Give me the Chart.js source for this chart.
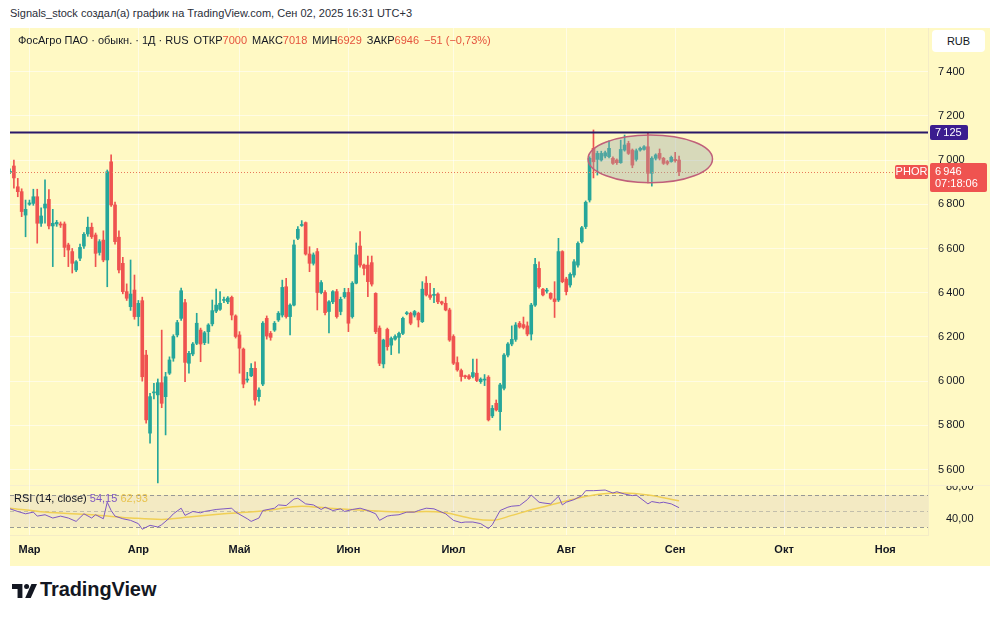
<!DOCTYPE html>
<html lang="ru"><head><meta charset="utf-8">
<script src="https://cdn.jsdelivr.net/npm/chart.js@4.4.1/dist/chart.umd.min.js"></script>
<style>
html,body{margin:0;padding:0;background:#fff;}
body{width:1000px;height:619px;position:relative;overflow:hidden;font-family:"Liberation Sans",Arial,sans-serif;color:#131722;}
#title{position:absolute;left:10px;top:7px;font-size:11px;color:#2a2e39;white-space:nowrap;}
#panel{position:absolute;left:10px;top:28px;width:980px;height:538px;background:#fff9c4;}
canvas{position:absolute;left:10px;}
#cPrice{top:28px;}
#cRsi{top:486px;}
#legend{position:absolute;left:18px;top:34px;font-size:11px;white-space:nowrap;color:#131722;}
#legend .v{color:#e5533d;}
#legend .g{margin-left:5px;}
#rub{position:absolute;left:932px;top:30px;width:53px;height:22px;background:#fff;border-radius:4px;font-size:11px;line-height:22px;text-align:center;color:#131722;}
#rsiLegend{position:absolute;left:14px;top:492px;font-size:11px;white-space:nowrap;color:#131722;}
#sep1{position:absolute;left:10px;top:485px;width:980px;height:1px;background:#f6efcf;}
#logo{position:absolute;left:12px;top:584px;}
#tvtext{position:absolute;left:40px;top:578px;font-size:20px;font-weight:bold;color:#131722;letter-spacing:-0.1px;}
</style></head><body>
<div id="title">Signals_stock создал(а) график на TradingView.com, Сен 02, 2025 16:31 UTC+3</div>
<div id="panel"></div>
<div id="sep1"></div>
<canvas id="cPrice" width="980" height="458"></canvas>
<canvas id="cRsi" width="980" height="80"></canvas>
<div id="legend">ФосАгро ПАО · обыкн. · 1Д · RUS<span class="g">ОТКР</span><span class="v">7000</span><span class="g">МАКС</span><span class="v">7018</span><span class="g">МИН</span><span class="v">6929</span><span class="g">ЗАКР</span><span class="v">6946</span><span class="v g">−51 (−0,73%)</span></div>
<div id="rub">RUB</div>
<div id="rsiLegend">RSI (14, close) <span style="color:#7e57c2">54,15</span> <span style="color:#e8c34e">62,93</span></div>
<svg id="logo" width="25" height="14" viewBox="0 0 36 20">
  <path d="M0 0h15v20h-7v-13h-8z" fill="#131722"/>
  <circle cx="21" cy="3.6" r="3.6" fill="#131722"/>
  <path d="M28 0h8l-9 20h-8z" fill="#131722"/>
</svg>
<div id="tvtext">TradingView</div>
<script>
// ---- data ----
const opens  = [6944,6973,6879,6857,6751,6800,6804,6834,6714,6783,6822,6702,6711,6711,6711,6616,6586,6503,6556,6611,6666,6696,6661,6582,6638,6548,6992,6797,6651,6533,6405,6337,6412,6292,6364,6118,5765,5947,5938,5993,5930,6036,6104,6209,6284,6355,6081,6123,6171,6231,6174,6224,6259,6317,6325,6365,6359,6379,6295,6209,6145,6005,6024,6058,5930,5987,6284,6216,6231,6277,6299,6427,6292,6344,6646,6704,6717,6575,6533,6586,6401,6401,6315,6359,6405,6315,6382,6401,6292,6443,6611,6525,6525,6536,6397,6240,6078,6234,6163,6190,6198,6216,6305,6307,6299,6307,6269,6443,6390,6388,6394,6359,6352,6322,6202,6084,6048,6022,6024,6021,6036,5998,6005,6018,5843,5900,5862,5968,6118,6168,6189,6262,6256,6250,6213,6344,6510,6416,6407,6397,6372,6367,6586,6462,6435,6480,6525,6631,6699,6819,7053,7003,7000,7018,7015,7008,7000,6988,7045,7075,7045,7003,7045,7048,7060,6940,7008,7030,7008,6993,6993,7003,7000];
const highs  = [6960,7000,6917,6870,6819,6819,6868,6868,6784,6910,6866,6777,6727,6720,6720,6624,6600,6545,6620,6672,6742,6715,6670,6640,6680,6955,7023,6810,6680,6560,6440,6548,6480,6365,6380,6140,5945,5990,6010,6231,6040,6110,6210,6275,6421,6370,6135,6175,6307,6240,6225,6260,6367,6417,6405,6380,6382,6385,6300,6224,6150,6040,6080,6088,5970,6270,6295,6225,6270,6315,6457,6465,6350,6638,6699,6726,6720,6608,6580,6600,6455,6410,6365,6410,6415,6380,6420,6420,6450,6625,6676,6530,6566,6566,6400,6250,6190,6240,6200,6210,6222,6290,6315,6312,6320,6312,6450,6473,6443,6420,6400,6362,6380,6330,6210,6110,6055,6028,6030,6100,6100,6015,6030,6025,5890,5915,5990,6125,6175,6250,6265,6270,6290,6268,6352,6556,6540,6420,6420,6400,6450,6646,6590,6470,6490,6550,6630,6700,6815,7015,7136,7040,7040,7040,7087,7015,7005,7090,7113,7085,7050,7050,7058,7065,7122,7015,7028,7050,7012,6998,7018,7035,7018];
const lows   = [6938,6873,6834,6744,6653,6795,6795,6624,6700,6714,6688,6518,6700,6695,6563,6518,6489,6495,6545,6600,6655,6645,6518,6570,6540,6427,6790,6620,6490,6395,6365,6320,6280,6250,6000,5810,5720,5920,5540,5880,5757,6030,6090,6200,6275,5998,6036,6115,6165,6088,6165,6171,6250,6310,6320,6355,6350,6277,6195,6036,5970,5995,6020,5892,5910,5980,6190,6185,6225,6270,6290,6285,6209,6340,6640,6700,6570,6495,6525,6322,6395,6300,6218,6350,6285,6300,6375,6224,6285,6440,6515,6480,6382,6430,6215,6070,6060,6140,6120,6185,6127,6210,6300,6255,6290,6245,6265,6385,6370,6355,6350,6345,6318,6180,6075,6045,6000,6012,6008,6015,5998,5990,5980,5820,5835,5865,5779,5960,6110,6160,6180,6240,6236,6205,6186,6338,6420,6385,6398,6370,6288,6360,6445,6390,6425,6470,6515,6625,6690,6810,6919,6932,6995,7010,7010,6980,6980,6985,7040,7025,6965,6995,7040,7045,6896,6882,7000,7000,6980,6978,6990,6990,6929];
const closes = [6948,6919,6857,6767,6777,6806,6834,6714,6747,6801,6702,6714,6718,6706,6605,6593,6533,6540,6605,6664,6696,6653,6578,6631,6548,6947,6797,6631,6503,6405,6375,6394,6292,6352,6020,5825,5930,5950,5993,5900,6020,6096,6202,6265,6409,6085,6126,6168,6262,6168,6219,6254,6319,6344,6352,6368,6376,6299,6202,6149,5987,6009,6058,5915,5960,6262,6204,6198,6262,6307,6424,6292,6344,6616,6687,6708,6575,6533,6571,6401,6446,6310,6359,6405,6292,6370,6401,6262,6443,6571,6525,6510,6450,6439,6224,6081,6186,6156,6193,6202,6216,6284,6309,6262,6315,6277,6416,6390,6379,6392,6359,6352,6322,6186,6081,6051,6021,6020,6012,6039,6003,6009,6006,5825,5877,5870,5983,6118,6168,6189,6254,6245,6243,6213,6344,6528,6427,6390,6410,6375,6360,6586,6450,6405,6483,6540,6623,6694,6809,7008,6992,7030,7030,7033,7053,6985,6988,7048,7068,7030,6977,7042,7053,7060,6940,7008,7023,7008,6985,6985,7012,6997,6946];

const rsiIndex = [0,2,4,6,7,9,11,13,15,17,19,21,22,24,25,26,27,29,31,33,34,36,38,39,41,42,44,45,47,49,50,53,55,57,58,61,62,64,65,68,69,71,73,74,76,78,80,81,83,85,86,88,90,92,94,95,97,98,100,102,104,105,107,109,110,112,114,116,117,119,121,123,124,126,128,129,131,133,134,136,137,139,141,142,143,145,147,148,150,153,155,156,158,160,161,164,165,167,168,170,172];
const rsiValue = [52.7,49.4,46.5,48.6,43.6,45.3,41.2,43.6,41.2,37,46.5,41.2,45.3,40.3,61,50.6,43.6,40.3,38.3,34.2,27.2,32.1,30,32.9,41.2,46.5,53.5,44.5,49.4,47.7,49.4,51.9,52.7,53.5,48.6,40.3,37,41.2,50.6,53.5,57.6,56.8,65,65.9,58.9,57.6,51.9,54.8,50.6,52.7,49.4,51.9,53.5,50.6,46.5,38.3,43.6,44.5,45.3,48.6,48.6,50.6,53.5,52.7,50.6,46.5,38.3,35.4,36.2,36.2,34.2,28,32.9,50.6,54.8,56,56.8,64.2,70,61,60.1,58.9,68.4,57.6,61,64.2,69.2,75.4,75.4,76.2,72.5,74.1,71.2,69.2,70,58.9,61.8,60.1,61,58.9,54.15];
const maIndex = [0,9,21,32,39,46,55,66,75,82,92,101,107,112,119,124,129,135,141,147,152,158,164,172];
const maValue = [53.5,48.6,45.3,41,39.5,42.4,46.5,50.6,56,53.5,50.6,48.6,49.4,47.7,40.3,38.3,44.5,52.7,60.1,67.1,71.2,72.5,70,62.93];

const monthNames = ['Мар','Апр','Май','Июн','Июл','Авг','Сен','Окт','Ноя'];
const monthIdx   = [5,33,59,87,114,143,171,199,225];
const priceTicks = [5600,5800,6000,6200,6400,6600,6800,7000,7200,7400];
const rsiTicks = [40,80];
const resistanceLevel = 7125;
const lastPrice = 6946;
const countdown = '07:18:06';
const zone = {fromIdx:148.6, toIdx:180.6, high:7113, low:6897};

// ---- styles ----
const N_SLOTS = 237;
const FONT = '"Liberation Sans", Arial, sans-serif';
const UP = '#26a69a', DOWN = '#ef5350';
const GRID = 'rgba(255,255,255,0.55)';
const SEP = '#f4ecc6';
const PRICE_MIN = 5526, PRICE_MAX = 7597;

const slots = Array.from({length:N_SLOTS}, (_, i) => String(i));
const bodies = opens.map((o, i) => [o, closes[i]]);
const wicks = lows.map((l, i) => [l, highs[i]]);
const colors = opens.map((o, i) => closes[i] >= o ? UP : DOWN);
const rsiSeries = new Array(N_SLOTS).fill(null);
rsiIndex.forEach((k, j) => { rsiSeries[k] = rsiValue[j]; });
const maSeries = new Array(N_SLOTS).fill(null);
maIndex.forEach((k, j) => { maSeries[k] = maValue[j]; });

const fmtPrice = v => String(v).replace(/\B(?=(\d{3})+(?!\d))/g, '\u2009');
const gridColor = ctx => monthIdx.includes(ctx.index) ? GRID : 'rgba(0,0,0,0)';
const noPad = s => { s.paddingTop = 0; s.paddingBottom = 0; s.paddingLeft = 0; s.paddingRight = 0; };

function box(ctx, x, y, w, h, color) {
  ctx.fillStyle = color;
  ctx.beginPath();
  if (ctx.roundRect) ctx.roundRect(x, y, w, h, 2); else ctx.rect(x, y, w, h);
  ctx.fill();
}

const overlayPlugin = {
  id: 'overlay',
  afterDatasetsDraw(chart) {
    const {ctx, chartArea: a, scales: {x, y}} = chart;
    ctx.save();
    ctx.beginPath(); ctx.rect(a.left, a.top, a.right - a.left, a.bottom - a.top); ctx.clip();
    const yl = Math.round(y.getPixelForValue(lastPrice)) + 0.5;
    ctx.strokeStyle = '#e8795a'; ctx.lineWidth = 1; ctx.setLineDash([1, 2]);
    ctx.beginPath(); ctx.moveTo(a.left, yl); ctx.lineTo(a.right, yl); ctx.stroke();
    ctx.setLineDash([]);
    const x1 = x.getPixelForValue(zone.fromIdx), x2 = x.getPixelForValue(zone.toIdx);
    const y1 = y.getPixelForValue(zone.high), y2 = y.getPixelForValue(zone.low);
    ctx.beginPath();
    ctx.ellipse((x1 + x2) / 2, (y1 + y2) / 2, (x2 - x1) / 2, (y2 - y1) / 2, 0, 0, Math.PI * 2);
    ctx.fillStyle = 'rgba(150,165,170,0.38)'; ctx.fill();
    ctx.strokeStyle = '#c0607a'; ctx.lineWidth = 1.5; ctx.stroke();
    const yr = y.getPixelForValue(resistanceLevel);
    ctx.strokeStyle = '#2a1868'; ctx.lineWidth = 2;
    ctx.beginPath(); ctx.moveTo(a.left, yr); ctx.lineTo(a.right, yr); ctx.stroke();
    ctx.restore();
  },
  afterDraw(chart) {
    const {ctx, chartArea: a, scales: {y}} = chart;
    ctx.save();
    ctx.font = '11px ' + FONT;
    ctx.textBaseline = 'middle';
    const yr = y.getPixelForValue(resistanceLevel);
    box(ctx, a.right + 2, yr - 7.5, 38, 15, '#3b1d8f');
    ctx.fillStyle = '#fff'; ctx.textAlign = 'left';
    ctx.fillText(fmtPrice(resistanceLevel), a.right + 7, yr + 0.5);
    const yl = y.getPixelForValue(lastPrice);
    box(ctx, a.right + 2, yl - 9, 57, 29, DOWN);
    ctx.fillStyle = '#fff';
    ctx.fillText(fmtPrice(lastPrice), a.right + 7, yl);
    ctx.fillText(countdown, a.right + 7, yl + 12);
    box(ctx, a.right - 33, yl - 7, 33, 14, DOWN);
    ctx.fillStyle = '#fff'; ctx.textAlign = 'center';
    ctx.fillText('PHOR', a.right - 16.5, yl + 0.5);
    ctx.restore();
  }
};

new Chart(document.getElementById('cPrice'), {
  type: 'bar',
  data: {labels: slots, datasets: [
    {data: bodies, backgroundColor: colors, barThickness: 3, minBarLength: 1, grouped: false, borderWidth: 0},
    {data: wicks, backgroundColor: colors, barThickness: 1, grouped: false, borderWidth: 0}
  ]},
  options: {
    responsive: false, maintainAspectRatio: false, animation: false, events: [],
    layout: {padding: 0, autoPadding: false},
    plugins: {legend: {display: false}, tooltip: {enabled: false}, title: {display: false}},
    scales: {
      x: {type: 'category', offset: false,
          grid: {offset: false, drawTicks: false, color: gridColor},
          border: {display: false},
          ticks: {display: false, autoSkip: false},
          afterFit: s => { s.height = 0; noPad(s); }},
      y: {position: 'right', min: PRICE_MIN, max: PRICE_MAX,
          afterBuildTicks: s => { s.ticks = priceTicks.map(v => ({value: v})); },
          afterFit: s => { s.width = 62; noPad(s); },
          grid: {color: GRID, drawTicks: false},
          border: {display: true, color: SEP},
          ticks: {padding: 10, color: '#131722', font: {size: 11, family: FONT}, callback: v => fmtPrice(v)}}
    }
  },
  plugins: [overlayPlugin]
});

const rsiBandPlugin = {
  id: 'rsiBand',
  beforeDatasetsDraw(chart) {
    const {ctx, chartArea: a, scales: {y}} = chart;
    const y70 = y.getPixelForValue(70), y50 = y.getPixelForValue(50), y30 = y.getPixelForValue(30);
    ctx.save();
    ctx.fillStyle = 'rgba(126,87,194,0.09)';
    ctx.fillRect(a.left, y70, a.right - a.left, y30 - y70);
    ctx.lineWidth = 1;
    ctx.setLineDash([4, 3]);
    [[y70, 'rgba(120,123,134,0.75)'], [y50, 'rgba(120,123,134,0.4)'], [y30, 'rgba(120,123,134,0.75)']].forEach(([yy, c]) => {
      ctx.strokeStyle = c;
      ctx.beginPath(); ctx.moveTo(a.left, Math.round(yy) + 0.5); ctx.lineTo(a.right, Math.round(yy) + 0.5); ctx.stroke();
    });
    ctx.restore();
  }
};

new Chart(document.getElementById('cRsi'), {
  type: 'line',
  data: {labels: slots, datasets: [
    {data: rsiSeries, borderColor: '#7e57c2', borderWidth: 1, pointRadius: 0, spanGaps: true, tension: 0},
    {data: maSeries, borderColor: '#f0cf55', borderWidth: 1.5, pointRadius: 0, spanGaps: true, cubicInterpolationMode: 'monotone'}
  ]},
  options: {
    responsive: false, maintainAspectRatio: false, animation: false, events: [],
    layout: {padding: 0, autoPadding: false},
    plugins: {legend: {display: false}, tooltip: {enabled: false}, title: {display: false}},
    scales: {
      x: {type: 'category', offset: false,
          grid: {offset: false, drawTicks: false, color: gridColor},
          border: {display: true, color: SEP},
          ticks: {autoSkip: false, maxRotation: 0, minRotation: 0, padding: 8, color: '#131722',
                  font: {size: 11, weight: 'bold', family: FONT},
                  callback: (v, i) => { const k = monthIdx.indexOf(i); return k >= 0 ? monthNames[k] : ''; }},
          afterFit: s => { s.height = 31; noPad(s); }},
      y: {position: 'right', min: 20, max: 81.25,
          afterBuildTicks: s => { s.ticks = rsiTicks.map(v => ({value: v})); },
          afterFit: s => { s.width = 62; noPad(s); },
          grid: {display: false},
          border: {display: true, color: SEP},
          ticks: {padding: 10, color: '#131722', font: {size: 11, family: FONT}, callback: v => v.toFixed(2).replace('.', ',')}}
    }
  },
  plugins: [rsiBandPlugin]
});
</script>
</body></html>
